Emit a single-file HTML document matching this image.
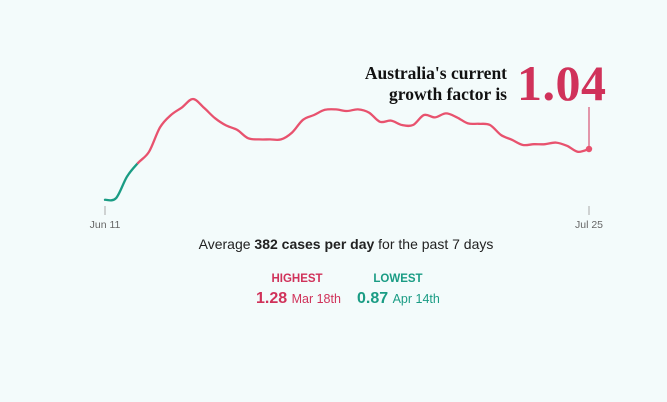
<!DOCTYPE html>
<html><head><meta charset="utf-8"><style>
body{margin:0;background:#f3fbfb;width:667px;height:402px;overflow:hidden;font-family:"Liberation Sans",sans-serif}
svg{position:absolute;left:0;top:0}
</style></head><body>
<svg width="667" height="402">
<g id="marks"></g>
<text x="507" y="79" text-anchor="end" font-family="Liberation Serif,serif" font-weight="bold" font-size="17.5" fill="#111">Australia's current</text>
<text x="507" y="100" text-anchor="end" font-family="Liberation Serif,serif" font-weight="bold" font-size="17.5" fill="#111">growth factor is</text>
<text id="cur" x="517" y="100" font-family="Liberation Serif,serif" font-weight="bold" font-size="50" letter-spacing="0.5" fill="#d0325a">1.04</text>
<line x1="105" y1="206" x2="105" y2="215" stroke="#aaa"/>
<line x1="589" y1="206" x2="589" y2="215" stroke="#aaa"/>
<text x="105" y="228" text-anchor="middle" font-size="10.5" fill="#666">Jun 11</text>
<text x="589" y="228" text-anchor="middle" font-size="10.5" fill="#666">Jul 25</text>
<text x="346" y="249" text-anchor="middle" font-size="14" fill="#222">Average <tspan font-weight="bold">382 cases per day</tspan> for the past 7 days</text>
<text x="297" y="282" text-anchor="middle" font-size="11.5" font-weight="bold" fill="#d0325a">HIGHEST</text>
<text x="256" y="303" font-size="16" font-weight="bold" fill="#d0325a">1.28 <tspan font-size="12.5" font-weight="normal">Mar 18th</tspan></text>
<text x="398" y="282" text-anchor="middle" font-size="11.5" font-weight="bold" fill="#1a9c84">LOWEST</text>
<text x="357" y="303" font-size="16" font-weight="bold" fill="#1a9c84">0.87 <tspan font-size="12.5" font-weight="normal">Apr 14th</tspan></text>
</svg>
<script>
const days=45;
const growth=[0.913,0.917,0.971,1.005,1.033,1.094,1.125,1.144,1.165,1.143,1.117,1.099,1.088,1.067,1.064,1.064,1.064,1.081,1.113,1.125,1.138,1.139,1.135,1.139,1.131,1.108,1.111,1.100,1.100,1.125,1.119,1.129,1.119,1.104,1.103,1.100,1.075,1.063,1.050,1.052,1.052,1.056,1.048,1.033,1.040];
const greenUntil=3;
const xs=i=>105+i*(589-105)/(days-1);
const ys=v=>149-(v-1.04)*400;
const g=document.getElementById('marks');
const ns='http://www.w3.org/2000/svg';
function pt(i){i=Math.max(0,Math.min(growth.length-1,i));return [xs(i),ys(growth[i])];}
function path(from,to,color,name){
 let p0=pt(from);let d='M'+p0[0].toFixed(1)+','+p0[1].toFixed(1);
 for(let i=from;i<to;i++){
  const a=pt(i-1),b=pt(i),c=pt(i+1),e=pt(i+2);
  const c1=[b[0]+(c[0]-a[0])/6,b[1]+(c[1]-a[1])/6];
  const c2=[c[0]-(e[0]-b[0])/6,c[1]-(e[1]-b[1])/6];
  d+='C'+c1[0].toFixed(1)+','+c1[1].toFixed(1)+' '+c2[0].toFixed(1)+','+c2[1].toFixed(1)+' '+c[0].toFixed(1)+','+c[1].toFixed(1);
 }
 const p=document.createElementNS(ns,'path');
 p.setAttribute('d',d);p.setAttribute('fill','none');p.setAttribute('stroke',color);p.setAttribute('stroke-width','2.3');p.setAttribute('stroke-linejoin','round');p.setAttribute('stroke-linecap','round');
 
 
 g.appendChild(p);
}
path(0,greenUntil,'#1a9c84','growth-line-below-one');
path(greenUntil,growth.length-1,'#e8526e','growth-line-above-one');
const last=growth.length-1;
const ln=document.createElementNS(ns,'line');
ln.setAttribute('x1',xs(last));ln.setAttribute('x2',xs(last));ln.setAttribute('y1',107);ln.setAttribute('y2',ys(growth[last])-3);ln.setAttribute('stroke','#d0325a');


g.appendChild(ln);
const c=document.createElementNS(ns,'circle');
c.setAttribute('cx',xs(last));c.setAttribute('cy',ys(growth[last]));c.setAttribute('r',3.2);c.setAttribute('fill','#e8526e');


g.appendChild(c);
document.getElementById('cur').textContent=growth[last].toFixed(2);
</script>
</body></html>
